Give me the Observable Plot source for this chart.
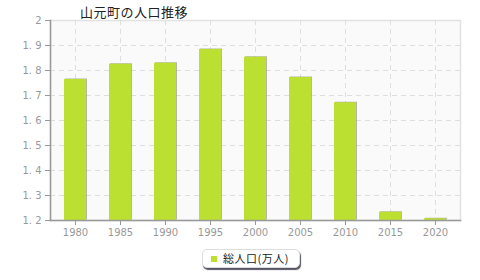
<!DOCTYPE html>
<html><head><meta charset="utf-8">
<script src="https://cdn.jsdelivr.net/npm/d3@7"></script>
<script src="https://cdn.jsdelivr.net/npm/@observablehq/plot@0.6"></script>
<style>
body{margin:0;background:#fff;font-family:"Noto Sans CJK JP","Noto Sans",sans-serif;}
#wrap{position:relative;width:480px;height:280px;overflow:hidden;}
#title{position:absolute;left:80px;top:2px;font-size:13px;color:#222;letter-spacing:0.5px;}
#chart{position:absolute;left:0;top:0;}
#legend{position:absolute;left:202px;top:249px;width:96px;height:17px;border-radius:5px;background:#fff;border:1px solid #ddd;box-shadow:1px 2px 1px #556;font-size:11px;color:#222;}
#legend .sw{position:absolute;left:8px;top:6px;width:6px;height:6px;background:#bce031;}
#legend .tx{position:absolute;left:20px;top:0px;line-height:17px;letter-spacing:0.5px;}
</style></head>
<body><div id="wrap"><div id="chart"></div><div id="title">山元町の人口推移</div>
<div id="legend"><span class="sw"></span><span class="tx">総人口(万人)</span></div></div>
<script>
const years = ["1980","1985","1990","1995","2000","2005","2010","2015","2020"];
const population = [1.764,1.825,1.829,1.884,1.853,1.772,1.671,1.233,1.207];
const yTicks = [1.2,1.3,1.4,1.5,1.6,1.7,1.8,1.9,2];
const yBase = 1.2;
const data = years.map((y,i)=>({year:y, v:population[i]}));
const fmt = d => d === 2 ? "2" : d.toFixed(1).replace(".", ". ");
const chart = Plot.plot({
  width:480, height:240,
  marginLeft:50, marginRight:20, marginTop:20, marginBottom:20,
  style:{fontFamily:"DejaVu Sans, sans-serif", fontSize:"10px", color:"#999", background:"transparent"},
  x:{domain:years, paddingInner:0.52, paddingOuter:0.26, align:0.5, label:null},
  y:{domain:[1.2,2], label:null},
  marks:[
    Plot.frame({fill:"#fafafa", stroke:"#e2e2e2", strokeWidth:1.5}),
    Plot.gridY(yTicks.slice(1,-1), {stroke:"#dedede", strokeOpacity:1, strokeDasharray:"5,4", strokeWidth:1}),
    Plot.gridX(years, {stroke:"#dedede", strokeOpacity:1, strokeDasharray:"5,4", strokeWidth:1}),
    Plot.barY(data, {x:"year", y1:()=>yBase, y2:"v", fill:"#8a8a6a", fillOpacity:0.6, dx:1, dy:-0.5}),
    Plot.barY(data, {x:"year", y1:()=>yBase, y2:"v", fill:"#bce031"}),
    Plot.frame({anchor:"left", stroke:"#999", strokeWidth:1.5}),
    Plot.frame({anchor:"bottom", stroke:"#999", strokeWidth:1.5}),
    Plot.axisY({ticks:yTicks, tickFormat:fmt, tickSize:5, tickPadding:4, stroke:"#999", fill:"#999", letterSpacing:"1px"}),
    Plot.axisX({tickSize:5, tickPadding:3, stroke:"#999", fill:"#999", letterSpacing:"1px"})
  ]
});
document.getElementById("chart").appendChild(chart);
</script></body></html>
